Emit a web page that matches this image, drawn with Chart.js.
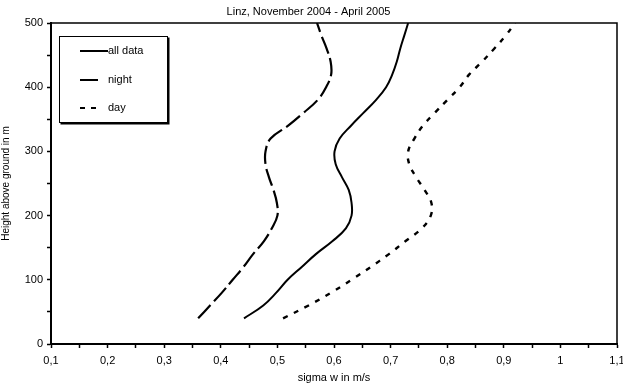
<!DOCTYPE html>
<html>
<head>
<meta charset="utf-8">
<script src="https://cdn.jsdelivr.net/npm/chart.js@4"></script>
<style>
html,body{margin:0;padding:0;background:#fff;}
#wrap{width:623px;height:385px;}
</style>
</head>
<body>
<div id="wrap"><canvas id="c" width="623" height="385"></canvas></div>
<script>
const heights = [40,60,80,100,120,140,160,180,200,220,240,260,280,300,320,340,360,380,400,420,440,460,480,500];
const allData = [0.441,0.475,0.498,0.518,0.543,0.568,0.597,0.621,0.631,0.631,0.626,0.614,0.603,0.601,0.610,0.630,0.652,0.674,0.692,0.703,0.711,0.717,0.724,0.731];
const night   = [0.360,0.381,0.402,0.421,0.440,0.457,0.476,0.490,0.500,0.499,0.493,0.485,0.479,0.479,0.488,0.519,0.546,0.571,0.586,0.595,0.594,0.587,0.578,0.570];
const day     = [0.510,0.555,0.595,0.631,0.665,0.697,0.726,0.755,0.771,0.772,0.760,0.745,0.733,0.731,0.742,0.757,0.778,0.800,0.822,0.839,0.862,0.883,0.903,0.920];
const seriesNames = ['all data','night','day'];
const titleText = 'Linz, November 2004 - April 2005';
const xTitle = 'sigma w in m/s';
const yTitle = 'Height above ground in m';

const FONT = "'Liberation Sans', Arial, sans-serif";
function pts(xs){ return xs.map((x,i)=>({x:x,y:heights[i]})); }

const frameAndLegend = {
  id:'frameAndLegend',
  afterDraw(chart){
    const ctx = chart.ctx, a = chart.chartArea;
    ctx.save();
    ctx.strokeStyle = '#000';
    ctx.lineWidth = 1.5;
    ctx.beginPath();
    ctx.moveTo(a.left, a.top); ctx.lineTo(a.right, a.top); ctx.lineTo(a.right, a.bottom);
    ctx.stroke();
    // legend box
    const bx = a.left + 8, by = a.top + 13, bw = 109, bh = 87;
    ctx.fillStyle = '#000';
    ctx.fillRect(bx+1.5, by+1.5, bw, bh);
    ctx.fillStyle = '#fff';
    ctx.fillRect(bx, by, bw, bh);
    ctx.lineWidth = 1;
    ctx.strokeRect(bx+0.5, by+0.5, bw-1, bh-1);
    const ys = [by+15, by+44, by+72];
    ctx.font = '11px ' + FONT;
    ctx.textBaseline = 'middle';
    chart.data.datasets.forEach((ds,i)=>{
      ctx.setLineDash(ds.legendDash || []);
      ctx.lineWidth = 2;
      ctx.beginPath();
      ctx.moveTo(bx+21, ys[i]); ctx.lineTo(bx+21+ds.legendLen, ys[i]);
      ctx.stroke();
      ctx.setLineDash([]);
      ctx.fillStyle = '#000';
      ctx.fillText(ds.label, bx+49, ys[i]);
    });
    ctx.restore();
  }
};

new Chart(document.getElementById('c'), {
  type:'scatter',
  data:{
    datasets:[
      {label:seriesNames[0], data:pts(allData), showLine:true, borderColor:'#000', borderWidth:2, pointRadius:0, tension:0.4, borderDash:[], legendDash:[], legendLen:28},
      {label:seriesNames[1], data:pts(night), showLine:true, borderColor:'#000', borderWidth:2.2, pointRadius:0, tension:0.4, borderDash:[18,5], legendDash:[], legendLen:18},
      {label:seriesNames[2], data:pts(day), showLine:true, borderColor:'#000', borderWidth:2.4, pointRadius:0, tension:0.4, borderDash:[5,7], legendDash:[5,6], legendLen:16}
    ]
  },
  options:{
    responsive:false,
    animation:false,
    layout:{padding:{left:0,right:6,top:0,bottom:0}},
    plugins:{
      legend:{display:false},
      tooltip:{enabled:false},
      title:{display:true, text:titleText, color:'#000', font:{family:FONT, size:11, weight:'normal'}, padding:{top:5,bottom:4.8}}
    },
    scales:{
      x:{
        type:'linear', min:0.1, max:1.1,
        ticks:{stepSize:0.05, color:'#000', font:{family:FONT,size:11}, padding:6, maxRotation:0, autoSkip:false,
          callback:(v)=>{ const k=Math.round(v*100); if(k%10!==0) return ''; const s=(k/100).toString(); return s.replace('.',','); }},
        grid:{drawOnChartArea:false, drawTicks:true, tickLength:4, color:'#000', tickWidth:1.5},
        border:{display:true, color:'#000', width:2},
        title:{display:true, text:xTitle, color:'#000', font:{family:FONT,size:11}, padding:{top:0,bottom:0}},
        afterFit:(s)=>{ s.height = 41; s.paddingLeft = 0; s.paddingRight = 0; }
      },
      y:{
        type:'linear', min:0, max:500,
        ticks:{stepSize:50, color:'#000', font:{family:FONT,size:11}, padding:4, autoSkip:false,
          callback:(v)=>{ return (Math.round(v)%100===0) ? String(Math.round(v)) : ''; }},
        grid:{drawOnChartArea:false, drawTicks:true, tickLength:4, color:'#000', tickWidth:1.5},
        border:{display:true, color:'#000', width:2},
        title:{display:true, text:yTitle, color:'#000', font:{family:FONT,size:10}, padding:{top:0,bottom:0}},
        afterFit:(s)=>{ s.width = 51; s.paddingTop = 0; s.paddingBottom = 0; }
      }
    }
  },
  plugins:[frameAndLegend]
});
</script>
</body>
</html>
